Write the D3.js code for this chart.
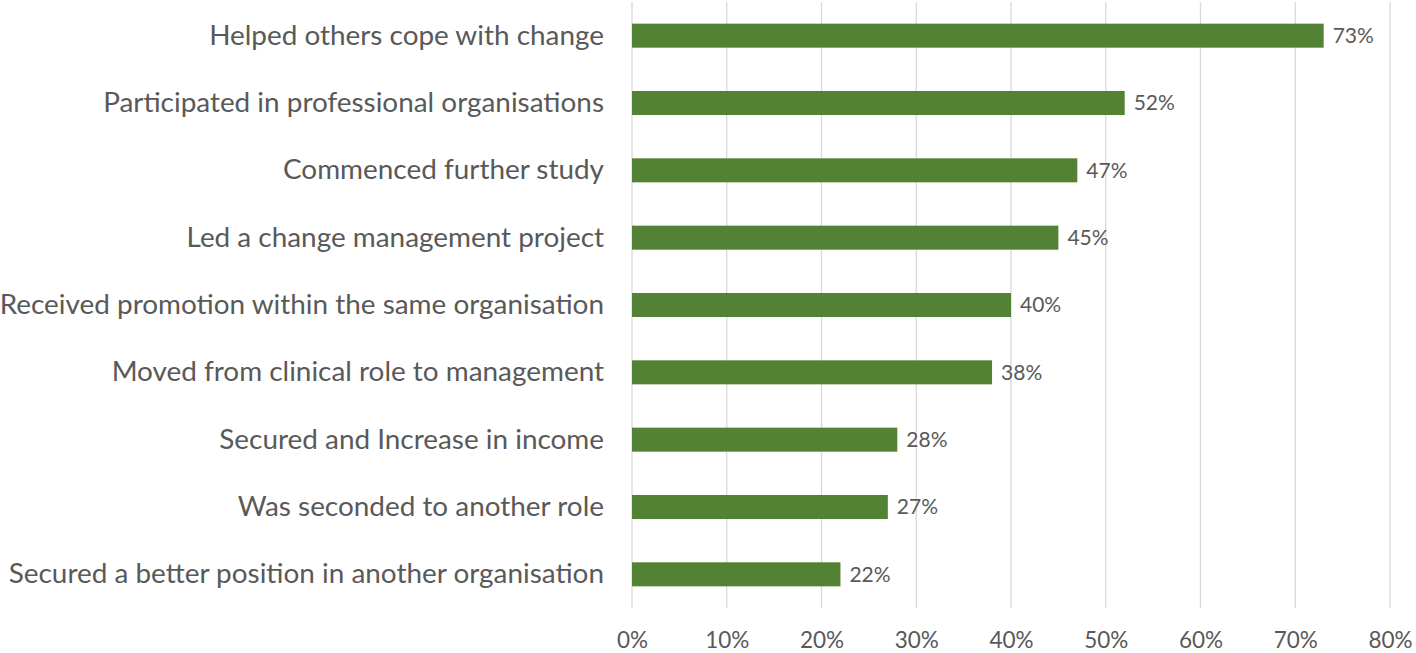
<!DOCTYPE html>
<html>
<head>
<meta charset="utf-8">
<script src="https://cdn.jsdelivr.net/npm/d3@7"></script>
<style>
  body { margin: 0; background: #fff; }
  text { font-family: Lato, "Open Sans", sans-serif; fill: #595959; }
</style>
</head>
<body>
<svg id="chart" width="1416" height="653"></svg>
<script>
var categories = [
  "Helped others cope with change",
  "Participated in professional organisations",
  "Commenced further study",
  "Led a change management project",
  "Received promotion within the same organisation",
  "Moved from clinical role to management",
  "Secured and Increase in income",
  "Was seconded to another role",
  "Secured a better position in another organisation"
];
var values = [73, 52, 47, 45, 40, 38, 28, 27, 22];
var ticks = [0, 10, 20, 30, 40, 50, 60, 70, 80];

var margin = { top: 2, right: 26, bottom: 45, left: 632 };
var width = 1416 - margin.left - margin.right;
var height = 653 - margin.top - margin.bottom;

var svg = d3.select("#chart").
  append("g").
  attr("transform", "translate(" + margin.left + "," + margin.top + ")");

var x = d3.scaleLinear().domain([0, 80]).range([0, width]);
var y = d3.scaleBand().
  domain(categories).
  range([0, height]).
  paddingInner(0.643).
  paddingOuter(0.3215);

// gridlines
svg.selectAll("line.grid").
  data(ticks).
  enter().append("line").
  attr("class", "grid").
  attr("x1", function(d) { return x(d); }).
  attr("x2", function(d) { return x(d); }).
  attr("y1", 0).
  attr("y2", height).
  attr("stroke", "#d9d9d9").
  attr("stroke-width", 1.3);

// x axis labels
var xAxis = d3.axisBottom(x).
  tickValues(ticks).
  tickSize(0).
  tickPadding(24).
  tickFormat(function(d) { return d + "%"; });

var gX = svg.append("g").
  attr("transform", "translate(0," + height + ")").
  call(xAxis);
gX.select(".domain").remove();
gX.selectAll("text").
  style("font-size", "22.5px").
  style("fill", "#595959").
  style("font-family", "Lato, 'Open Sans', sans-serif");

// category labels
var yAxis = d3.axisLeft(y).tickSize(0).tickPadding(28);
var gY = svg.append("g").call(yAxis);
gY.select(".domain").remove();
gY.selectAll("text").
  style("font-size", "27.9px").
  style("fill", "#595959").
  style("font-family", "Lato, 'Open Sans', sans-serif");

// bars
svg.selectAll("rect.bar").
  data(values).
  enter().append("rect").
  attr("class", "bar").
  attr("x", x(0)).
  attr("y", function(d, i) { return y(categories[i]); }).
  attr("width", function(d) { return x(d) - x(0); }).
  attr("height", y.bandwidth()).
  attr("fill", "#548235");

// value labels
svg.selectAll("text.val").
  data(values).
  enter().append("text").
  attr("class", "val").
  attr("x", function(d) { return x(d) + 9; }).
  attr("y", function(d, i) { return y(categories[i]) + y.bandwidth() / 2; }).
  attr("dy", "0.35em").
  style("font-size", "21px").
  text(function(d) { return d + "%"; });
</script>
</body>
</html>
